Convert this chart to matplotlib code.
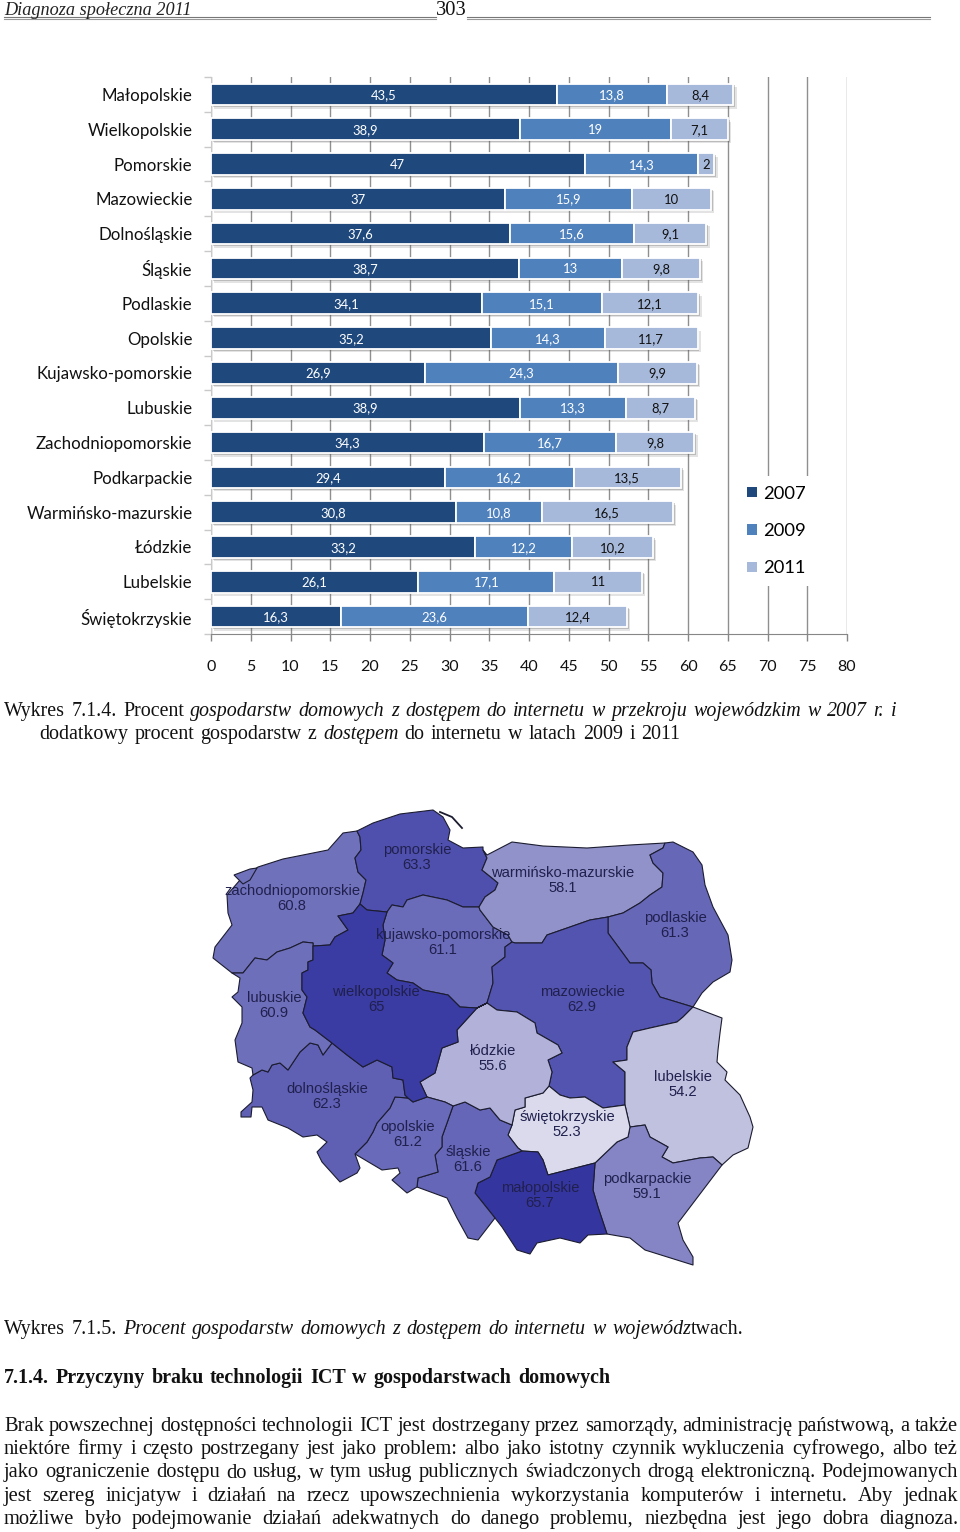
import matplotlib
matplotlib.use("Agg")
import matplotlib.pyplot as plt
import matplotlib.patheffects as pe
from matplotlib.patches import Polygon, Patch
import numpy as np

W, H = 960, 1532

# ---------- bar chart data ----------
categories = ["Małopolskie", "Wielkopolskie", "Pomorskie", "Mazowieckie", "Dolnośląskie", "Śląskie",
              "Podlaskie", "Opolskie", "Kujawsko-pomorskie", "Lubuskie", "Zachodniopomorskie",
              "Podkarpackie", "Warmińsko-mazurskie", "Łódzkie", "Lubelskie", "Świętokrzyskie"]
y2007 = [43.5, 38.9, 47, 37, 37.6, 38.7, 34.1, 35.2, 26.9, 38.9, 34.3, 29.4, 30.8, 33.2, 26.1, 16.3]
y2009 = [13.8, 19, 14.3, 15.9, 15.6, 13, 15.1, 14.3, 24.3, 13.3, 16.7, 16.2, 10.8, 12.2, 17.1, 23.6]
y2011 = [8.4, 7.1, 2, 10, 9.1, 9.8, 12.1, 11.7, 9.9, 8.7, 9.8, 13.5, 16.5, 10.2, 11, 12.4]
series = [("2007", y2007), ("2009", y2009), ("2011", y2011)]
series_colors = ["#1F497D", "#4F81BD", "#A7B9DA"]
x_ticks = list(range(0, 85, 5))

# ---------- map data: shared borders in page pixels ----------
zp = [(357,831),(360,837),(361,850),(355,858),(358,872),(366,880),(363,893),(360,904)]
zw = [(360,904),(353,913),(338,916),(348,930),(335,937),(330,945),(313,946)]
zl = [(313,946),(313,943),(303,942),(290,948),(277,952),(267,960),(255,958),(243,973),(232,973)]
z_coast = [(232,973),(213,958),(215,947),(232,925),(228,913),(227,895),(240,880),(258,867),(283,859),(328,850),(343,833),(357,831)]
pw = [(360,904),(367,910),(387,912)]
pk = [(387,912),(392,905),(403,907),(407,900),(423,895),(447,900),(463,907),(479,907)]
pwm = [(479,907),(485,897),(495,890),(498,883),(492,878),(482,870),(487,858),(483,850)]
p_coast = [(483,850),(483,847),(463,848),(448,840),(450,830),(443,817),(433,810),(400,814),(373,823),(357,831)]
wk = [(387,912),(383,925),(385,940),(382,955),(393,963),(387,973),(397,980),(413,983),(423,990),(448,995),(460,1007),(477,1008)]
kl = [(477,1008),(487,1003)]
km = [(487,1003),(493,983),(492,967),(505,957),(505,947),(512,942)]
kwm = [(512,942),(508,935),(493,927),(480,910),(479,907)]
wm_coast = [(483,850),(487,855),(512,842),(543,846),(587,848),(630,845),(665,843)]
wmp = [(665,843),(663,848),(650,855),(653,863),(663,873),(662,887),(650,895),(640,903),(623,913),(608,917)]
wmm = [(608,917),(590,920),(570,927),(547,935),(542,943),(515,943),(512,942)]
po_outer = [(665,843),(673,842),(693,852),(702,865),(705,885),(713,907),(728,935),(732,960),(730,972),(713,982),(702,993),(693,1007)]
pm = [(693,1007),(670,1000),(660,997),(652,983),(651,970),(643,963),(630,963),(622,952),(608,933),(608,923),(608,917)]
ml = [(693,1007),(683,1017),(677,1022),(650,1028),(633,1032),(627,1047),(627,1060),(613,1062),(625,1072),(625,1105)]
ms = [(625,1105),(603,1108),(585,1097),(570,1098),(560,1095),(549,1086)]
mlo = [(549,1086),(552,1072),(548,1060),(562,1053),(558,1045),(537,1033),(535,1023),(517,1012),(497,1010),(487,1003)]
lu_outer = [(693,1007),(722,1018),(720,1033),(718,1050),(717,1062),(727,1072),(725,1080),(740,1095),(750,1117),(753,1127),(748,1148),(733,1155),(722,1165)]
lupk = [(722,1165),(713,1157),(700,1158),(673,1163),(662,1157),(668,1147),(650,1137),(645,1125),(630,1127)]
lus = [(630,1127),(625,1105)]
pk_outer = [(722,1165),(678,1223),(683,1240),(693,1257),(693,1265),(677,1260),(645,1250),(630,1238),(607,1234)]
pkm = [(607,1234),(598,1207),(593,1190),(595,1163)]
pks = [(595,1163),(617,1142),(628,1137),(630,1127)]
sm = [(595,1163),(548,1175),(543,1160),(538,1152),(522,1151)]
ssl = [(522,1151),(518,1148),(508,1135),(512,1125)]
sl = [(512,1125),(515,1110),(525,1107),(525,1098),(543,1093),(549,1086)]
slm = [(522,1151),(497,1160),(490,1177),(478,1183),(475,1193),(495,1218)]
m_outer = [(607,1234),(588,1235),(580,1243),(560,1238),(537,1243),(530,1254),(517,1250),(502,1227),(495,1218)]
sl_outer = [(495,1218),(478,1240),(468,1238),(457,1218),(447,1198),(417,1187)]
slo = [(417,1187),(418,1178),(438,1172),(435,1155),(442,1147),(442,1137),(447,1123),(453,1106)]
sll = [(453,1106),(465,1102),(480,1110),(490,1108),(500,1120),(512,1125)]
lo = [(427,1097),(445,1102),(453,1106)]
lw = [(477,1008),(457,1030),(458,1042),(442,1048),(435,1073),(420,1082),(427,1097)]
op_outer = [(417,1187),(407,1193),(392,1180),(400,1173),(398,1168),(382,1170),(355,1154)]
od = [(355,1154),(367,1142),(373,1132),(377,1123),(390,1108),(395,1097),(408,1098)]
ow = [(408,1098),(413,1102),(427,1097)]
dw = [(408,1098),(405,1095),(403,1080),(393,1078),(392,1067),(377,1060),(363,1067),(347,1055),(332,1043)]
dl = [(332,1043),(323,1055),(318,1045),(310,1043),(300,1052),(288,1070),(280,1063),(272,1065),(268,1072),(262,1070),(253,1075)]
d_outer = [(253,1075),(250,1078),(253,1090),(252,1102),(241,1112),(241,1117),(251,1117),(252,1107),(262,1107),(268,1120),(288,1128),(303,1137),(317,1135),(327,1142),(317,1152),(322,1162),(340,1182),(357,1173),(360,1168),(355,1154)]
lw2 = [(313,946),(313,960),(308,962),(308,970),(302,973),(302,990),(307,997),(303,1013),(310,1027),(315,1030),(332,1043)]
lu_o = [(232,973),(240,978),(238,992),(232,997),(242,1007),(242,1023),(235,1040),(238,1062),(252,1068),(253,1075)]
island = [(234,875),(250,869),(257,868),(250,880),(243,884)]
hel = [(440,812),(452,817),(462,828)]

R = lambda c: c[::-1]
regions = {
    "zachodniopomorskie": (zp + zw + zl + z_coast, "#7071BB"),
    "pomorskie": (zp + pw + pk + pwm + p_coast, "#4F50AD"),
    "kujawsko-pomorskie": (pk + R(kwm) + R(km) + R(kl) + R(wk), "#6B6CB9"),
    "warmińsko-mazurskie": (wm_coast + wmp + wmm + kwm + pwm, "#9292CA"),
    "podlaskie": (po_outer + pm + R(wmp), "#6667B7"),
    "mazowieckie": (R(pm) + ml + ms + mlo + km + R(wmm), "#5354AF"),
    "lubelskie": (lu_outer + lupk + lus + R(ml), "#C0C0DF"),
    "podkarpackie": (pk_outer + pkm + pks + R(lupk), "#8585C5"),
    "świętokrzyskie": (sl + R(ms) + R(lus) + R(pks) + sm + ssl, "#DADAEC"),
    "małopolskie": (R(pkm) + m_outer + R(slm) + R(sm), "#3535A0"),
    "śląskie": (sll + R(ssl) + slm + sl_outer + slo, "#6566B7"),
    "łódzkie": (lw + lo + sll + sl + mlo + kl, "#B1B1D9"),
    "opolskie": (ow + lo + R(slo) + op_outer + od, "#696AB9"),
    "dolnośląskie": (dw + dl + d_outer + od, "#5F60B4"),
    "lubuskie": (lu_o + R(dl) + R(lw2) + zl, "#6E6FBA"),
    "wielkopolskie": (pw + wk + lw + R(ow) + dw + R(lw2) + R(zw), "#3A3BA3"),
}
map_labels = [("pomorskie", "63.3", 417, 857), ("zachodniopomorskie", "60.8", 292, 898),
              ("warmińsko-mazurskie", "58.1", 563, 880), ("podlaskie", "61.3", 675, 925),
              ("kujawsko-pomorskie", "61.1", 443, 942), ("wielkopolskie", "65", 376, 999),
              ("mazowieckie", "62.9", 582, 999), ("lubuskie", "60.9", 274, 1005),
              ("łódzkie", "55.6", 493, 1058), ("dolnośląskie", "62.3", 327, 1096),
              ("lubelskie", "54.2", 683, 1084), ("świętokrzyskie", "52.3", 567, 1124),
              ("opolskie", "61.2", 408, 1134), ("śląskie", "61.6", 468, 1159),
              ("małopolskie", "65.7", 540, 1195), ("podkarpackie", "59.1", 647, 1186)]

# ---------- page text ----------
SERIF = "Liberation Serif"
caption1 = [("Wykres 7.1.4. Procent ", "n"), ("gospodarstw domowych z dostępem do internetu w przekroju wojewódzkim w 2007 r. i", "i")]
caption2 = [("dodatkowy procent gospodarstw z ", "n"), ("dostępem", "i"), (" do internetu w latach 2009 i 2011", "n")]
caption3 = [("Wykres 7.1.5. ", "n"), ("Procent gospodarstw domowych z dostępem do internetu w wojewódz", "i"), ("twach.", "n")]
heading = [("7.1.4. Przyczyny braku technologii ICT w gospodarstwach domowych", "b")]
body = ["Brak powszechnej dostępności technologii ICT jest dostrzegany przez samorządy, administrację państwową, a także",
        "niektóre firmy i często postrzegany jest jako problem: albo jako istotny czynnik wykluczenia cyfrowego, albo też",
        "jako ograniczenie dostępu do usług, w tym usług publicznych świadczonych drogą elektroniczną. Podejmowanych",
        "jest szereg inicjatyw i działań na rzecz upowszechnienia wykorzystania komputerów i internetu. Aby jednak",
        "możliwe było podejmowanie działań adekwatnych do danego problemu, niezbędna jest jego dobra diagnoza."]

fig = plt.figure(figsize=(W / 100, H / 100), dpi=100, facecolor="white")
page = fig.add_axes([0, 0, 1, 1], zorder=1)
page.set_xlim(0, W); page.set_ylim(H, 0); page.axis("off")
renderer = fig.canvas.get_renderer()

STY = {"n": dict(style="normal"), "i": dict(style="italic"), "b": dict(weight="bold")}

def fit_line(runs, x0, x1, base, size):
    words = []
    for text, sty in runs:
        parts = text.split(" ")
        for i, p in enumerate(parts):
            if p == "":
                if words: words[-1][2] = True
                continue
            words.append([p, sty, i < len(parts) - 1])
    arts = []
    for w, sty, _ in words:
        arts.append(page.text(0, base, w, family=SERIF, fontsize=size, va="baseline", ha="left", color="#111111", **STY[sty]))
    widths = [a.get_window_extent(renderer).width for a in arts]
    ngaps = sum(1 for w in words[:-1] if w[2])
    gap = (x1 - x0 - sum(widths)) / max(ngaps, 1)
    x = x0
    for a, wd, w in zip(arts, widths, words):
        a.set_x(x)
        x += wd + (gap if w[2] else 0)

# header
page.text(4, 15, "Diagnoza społeczna 2011", family=SERIF, style="italic", fontsize=13.15, va="baseline", color="#222222")
page.text(436, 15, "303", family=SERIF, fontsize=14.8, va="baseline", color="#111111")
for xa, xb in [(4, 436), (467, 930)]:
    page.plot([xa, xb], [16.5, 16.5], color="#777777", lw=0.8)
    page.plot([xa, xb], [18.5, 18.5], color="#999999", lw=0.8)

fit_line(caption1, 4, 896, 716, 14.4)
fit_line(caption2, 39, 680, 739, 14.4)
fit_line(caption3, 4, 744, 1334, 14.4)
fit_line(heading, 4, 610, 1383, 14.4)
for i, line in enumerate(body):
    fit_line([(line, "n")], 4, 958, 1431 + 23.25 * i, 14.8)

# map
for name, (pts, col) in regions.items():
    page.add_patch(Polygon(pts, closed=True, facecolor=col, edgecolor="#1c1c30", lw=0.8, joinstyle="round", zorder=2))
page.add_patch(Polygon(island, closed=True, facecolor="#7071BB", edgecolor="#1c1c30", lw=0.8, zorder=2))
hx, hy = zip(*hel)
page.plot(hx, hy, color="#1c1c30", lw=1.3, zorder=2)
for name, val, x, y in map_labels:
    page.text(x, y - 7, name, family="Liberation Sans", fontsize=10.6, ha="center", va="center", color="#20204e", zorder=3)
    page.text(x, y + 8, val, family="Liberation Sans", fontsize=10.6, ha="center", va="center", color="#20204e", zorder=3)

# bar chart
LATO = "Lato"
ax = fig.add_axes([211 / W, 1 - 634 / H, (847 - 211) / W, (634 - 77) / H], zorder=2)
ax.patch.set_alpha(0)
n = len(categories)
ypos = np.arange(n)
left = np.zeros(n)
shadow = [pe.SimplePatchShadow(offset=(2.4, -2.4), shadow_rgbFace="#666666", alpha=0.18),
          pe.SimplePatchShadow(offset=(1.3, -1.3), shadow_rgbFace="#555555", alpha=0.28), pe.Normal()]
for (lab, vals), col in zip(series, series_colors):
    vals = np.array(vals, dtype=float)
    bars = ax.barh(ypos, vals, left=left, height=0.62, color=col, edgecolor="white", linewidth=1.3, zorder=3)
    for b in bars:
        b.set_path_effects(shadow)
    tc = "#111111" if lab == "2011" else "white"
    for yy, l, v in zip(ypos, left, vals):
        ax.text(l + v / 2, yy + 0.02, str(v).replace(".0", "").replace(".", ","), ha="center", va="center",
                family=LATO, fontsize=9.4, color=tc, zorder=5)
    left += vals
ax.set_xlim(0, 80)
ax.set_ylim(n - 0.5, -0.5)
ax.set_xticks(x_ticks)
ax.set_xticklabels([str(t) for t in x_ticks], family=LATO, fontsize=11.5, color="#111111")
ax.tick_params(axis="x", length=5, width=1, color="#868686", pad=13.8)
ax.set_yticks(ypos)
ax.set_yticklabels(categories, family=LATO, fontsize=12.2, color="#111111")
ax.tick_params(axis="y", which="major", length=0, pad=13.4)
ax.set_yticks(np.arange(-0.5, n, 1), minor=True)
ax.tick_params(axis="y", which="minor", length=5, width=1, color="#c9c9c9")
ax.grid(axis="x", color="#8f8f8f", lw=1, zorder=1)
ax.set_axisbelow(True)
for s in ["top", "right"]:
    ax.spines[s].set_visible(False)
ax.spines["bottom"].set_color("#868686")
ax.spines["left"].set_color("#c9c9c9")
handles = [Patch(facecolor=c, edgecolor="none", label=lab) for (lab, _), c in zip(series, series_colors)]
leg = ax.legend(handles=handles, loc="center left", bbox_to_anchor=((738 - 211) / 636, (634 - 531) / 557),
                frameon=True, facecolor="white", edgecolor="none", framealpha=1, fancybox=False,
                prop={"family": LATO, "size": 13.2}, handlelength=0.52, handleheight=0.52,
                handletextpad=0.34, labelspacing=1.17, borderpad=0.5, borderaxespad=0)
leg.set_zorder(4)

fig.savefig("out.png", dpi=100, facecolor="white")
